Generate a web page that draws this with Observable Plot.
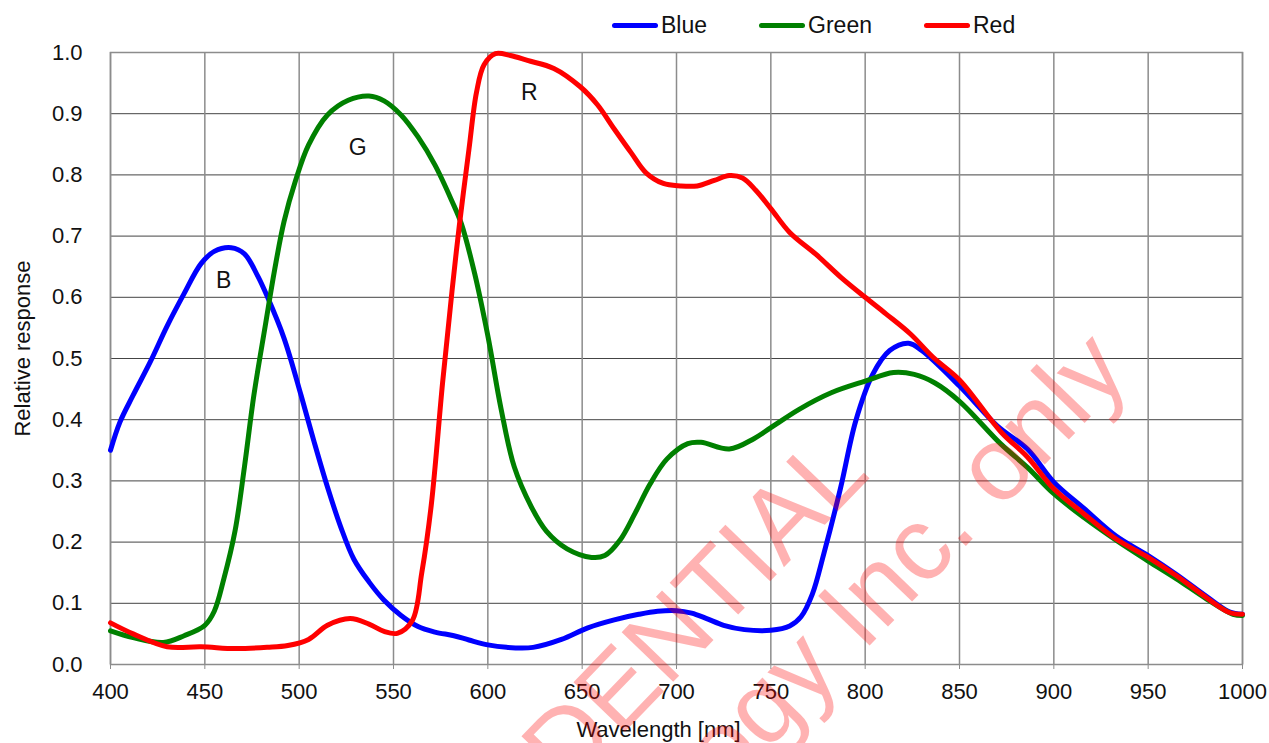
<!DOCTYPE html>
<html><head><meta charset="utf-8">
<script src="https://cdn.jsdelivr.net/npm/d3@7"></script>
<script src="https://cdn.jsdelivr.net/npm/@observablehq/plot@0.6"></script>
<style>
body{margin:0;background:#fff;font-family:"Liberation Sans",Arial,sans-serif;}
#wrap{position:relative;width:1269px;height:743px;overflow:hidden;background:#fff;}
#legend{height:40px;display:flex;align-items:center;padding-left:612px;box-sizing:border-box;padding-top:10px;font-size:23px;color:#111;}
.item{display:flex;align-items:center;margin-right:52px;}
.sw{width:46px;height:5px;border-radius:3px;margin-right:3px;}
#wm{position:absolute;left:0;top:0;pointer-events:none;}
</style></head>
<body>
<div id="wrap"><div id="legend"></div><div id="chart"></div>
<svg id="wm" width="1269" height="743"></svg></div>
<script>
// ---- data ----
const seriesNames = ["Blue", "Green", "Red"];
const seriesColors = ["#0000ff", "#008000", "#ff0000"];
const xTicks = [400,450,500,550,600,650,700,750,800,850,900,950,1000];
const yTicks = [0,0.1,0.2,0.3,0.4,0.5,0.6,0.7,0.8,0.9,1.0];

const blueNm  = [400,405,412,421,430,439,448,455,464,471,478,483,492,501,508,515,522,529,537,545,554,563,572,582,590,600,610,624,639,653,667,680,690,700,708,716,725,736,750,760,766,772,778,787,795,804,813,823,830,850,870,886,900,916,933,950,965,981,993,1000];
const blueVal = [0.350,0.396,0.44,0.494,0.553,0.606,0.655,0.675,0.681,0.671,0.635,0.602,0.533,0.44,0.363,0.29,0.225,0.172,0.135,0.105,0.080,0.062,0.053,0.047,0.040,0.032,0.028,0.028,0.041,0.060,0.073,0.082,0.087,0.088,0.084,0.075,0.064,0.057,0.056,0.063,0.078,0.115,0.18,0.289,0.398,0.474,0.513,0.525,0.513,0.455,0.39,0.352,0.298,0.255,0.21,0.178,0.147,0.111,0.086,0.082];

const greenNm  = [400,412,428,439,450,455,460,466,471,476,482,487,492,498,505,515,526,537,545,554,563,572,581,586,593,600,607,614,623,631,642,655,662,670,678,686,695,706,713,728,741,750,765,782,800,815,826,837,850,872,886,900,916,933,950,965,981,995,1000];
const greenVal = [0.055,0.044,0.036,0.047,0.064,0.087,0.139,0.218,0.323,0.44,0.553,0.645,0.724,0.79,0.849,0.898,0.922,0.929,0.921,0.898,0.862,0.816,0.757,0.72,0.639,0.537,0.418,0.323,0.258,0.218,0.189,0.175,0.178,0.203,0.247,0.295,0.336,0.361,0.363,0.352,0.369,0.387,0.417,0.444,0.463,0.477,0.474,0.46,0.43,0.36,0.322,0.279,0.24,0.203,0.169,0.14,0.107,0.082,0.08];

const redNm  = [400,412,430,448,466,483,494,505,515,527,537,545,552,560,565,570,576,581,585,590,594,598,604,612,621,635,649,658,667,676,684,693,702,711,720,728,735,742,750,760,774,787,800,811,824,836,850,872,886,900,916,933,950,965,981,993,1000];
const redVal = [0.068,0.05,0.029,0.029,0.026,0.028,0.031,0.041,0.064,0.075,0.066,0.054,0.051,0.072,0.15,0.26,0.46,0.61,0.72,0.842,0.935,0.98,0.998,0.995,0.987,0.974,0.944,0.915,0.875,0.836,0.803,0.786,0.782,0.782,0.791,0.799,0.795,0.775,0.745,0.706,0.67,0.633,0.60,0.573,0.54,0.502,0.465,0.38,0.339,0.287,0.246,0.205,0.175,0.145,0.109,0.085,0.082];

const curveLabels = ["B", "G", "R"];
const labelNm = [460, 531, 622];
const labelVal = [0.627, 0.845, 0.935];

const watermarkLines = ["CONFIDENTIAL", "ology Inc. only"];

// ---- build ----
const rows = [];
[[blueNm, blueVal], [greenNm, greenVal], [redNm, redVal]].forEach(([xs, ys], i) => {
  xs.forEach((x, j) => rows.push({series: seriesNames[i], nm: x, v: ys[j]}));
});
const labels = curveLabels.map((t, i) => ({t, nm: labelNm[i], v: labelVal[i]}));

const legend = document.getElementById("legend");
seriesNames.forEach((n, i) => {
  const it = document.createElement("div"); it.className = "item";
  const sw = document.createElement("div"); sw.className = "sw"; sw.style.background = seriesColors[i];
  const tx = document.createElement("span"); tx.textContent = n;
  it.appendChild(sw); it.appendChild(tx); legend.appendChild(it);
});

const chart = Plot.plot({
  width: 1269, height: 703,
  marginTop: 12, marginBottom: 79, marginLeft: 110, marginRight: 27,
  style: {fontFamily: "Liberation Sans, Arial, sans-serif", color: "#111", background: "#fff"},
  x: {domain: [400, 1000]},
  y: {domain: [0, 1]},
  color: {domain: seriesNames, range: seriesColors},
  marks: [
    Plot.gridY(yTicks, {stroke: "#444", strokeOpacity: 1, strokeWidth: 1}),
    Plot.gridX(xTicks, {stroke: "#8c8c8c", strokeOpacity: 1, strokeWidth: 1.5}),
    Plot.frame({stroke: "#8c8c8c", strokeWidth: 1.5}),
    Plot.axisX(xTicks, {tickSize: 5, tickPadding: 14, fontSize: 22, label: null, stroke: "#8c8c8c", tickFormat: d3.format("d")}),
    Plot.axisY(yTicks, {tickSize: 0, tickPadding: 28, fontSize: 22, label: null, tickFormat: d3.format(".1f")}),
    Plot.lineY(rows, {x: "nm", y: "v", z: "series", stroke: "series", strokeWidth: 5, curve: "catmull-rom"}),
    Plot.text(labels, {x: "nm", y: "v", text: "t", fontSize: 23, fill: "#111"}),
    Plot.text(["Wavelength [nm]"], {frameAnchor: "bottom", textAnchor: "middle", text: d => d, dx: -18, dy: 72, fontSize: 22, fill: "#111"}),
    Plot.text(["Relative response"], {frameAnchor: "left", textAnchor: "middle", text: d => d, rotate: -90, dx: -88, dy: -10, fontSize: 22, fill: "#111"})
  ]
});
document.getElementById("chart").appendChild(chart);

// watermark overlay
const wm = d3.select("#wm");
const pos = [[872, 476], [1132, 374]];
watermarkLines.forEach((t, i) => {
  wm.append("text").text(t)
    .attr("transform", `translate(${pos[i][0]},${pos[i][1]}) rotate(-46)`)
    .attr("text-anchor", "end")
    .attr("font-family", "Liberation Sans, Arial, sans-serif")
    .attr("font-size", 104)
    .attr("fill", "#ff0000").attr("fill-opacity", 0.3);
});
</script>
</body></html>
